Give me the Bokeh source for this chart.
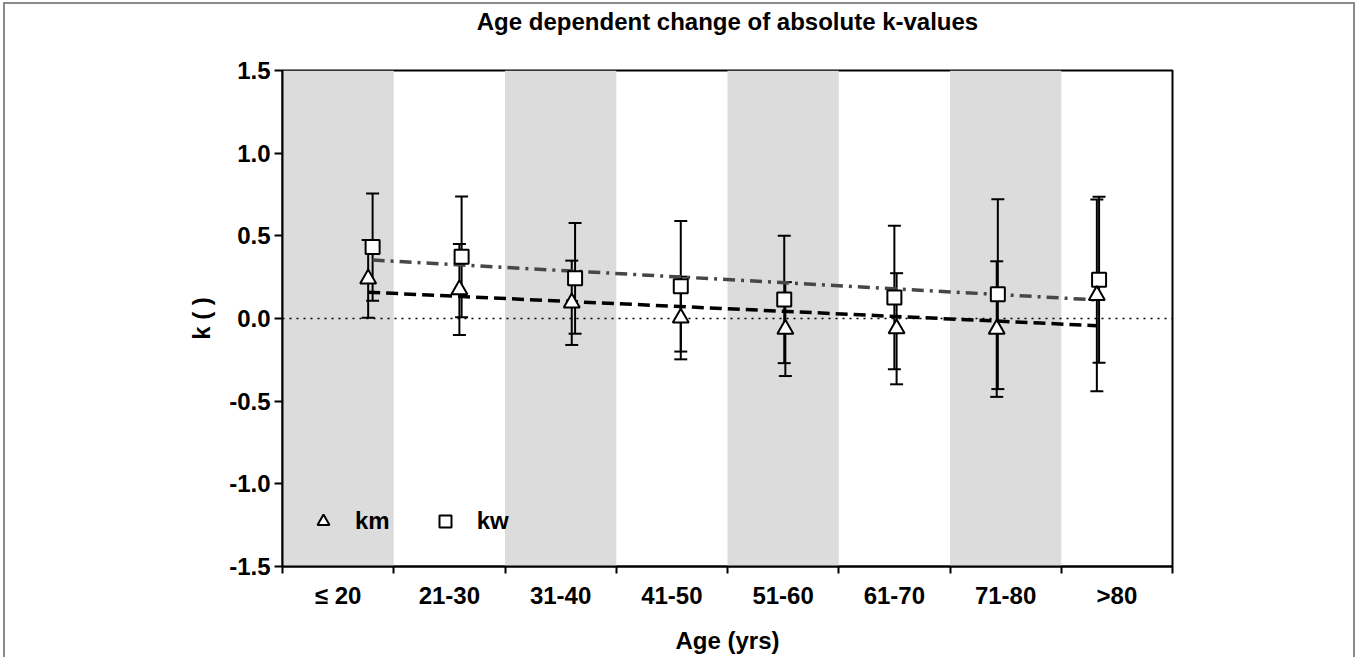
import numpy as np
from bokeh.plotting import figure
from bokeh.models import (ColumnDataSource, Whisker, TeeHead, FixedTicker, LinearAxis,
                          NumeralTickFormatter, Legend, LegendItem, Span, Range1d)
from bokeh.embed import file_html
from bokeh.resources import INLINE

# ---------------- data ----------------
title_text = "Age dependent change of absolute k-values"
categories = ["\u2264 20", "21-30", "31-40", "41-50", "51-60", "61-70", "71-80", ">80"]
band_lower = [10, 20, 30, 40, 50, 60, 70, 80]
band_upper = [20, 30, 40, 50, 60, 70, 80, 90]
band_shaded = [True, False, True, False, True, False, True, False]

# mean age of each group (x position of the points)
age_km = [17.7, 25.9, 36.0, 45.8, 55.2, 65.2, 74.2, 83.2]
age_kw = [18.1, 26.1, 36.3, 45.8, 55.1, 65.0, 74.3, 83.4]

# means and standard deviations
km_mean = [0.24, 0.175, 0.095, 0.003, -0.064, -0.062, -0.064, 0.14]
km_sd = [0.235, 0.275, 0.255, 0.25, 0.284, 0.336, 0.41, 0.58]
kw_mean = [0.432, 0.373, 0.243, 0.195, 0.115, 0.127, 0.147, 0.235]
kw_sd = [0.324, 0.365, 0.335, 0.395, 0.385, 0.434, 0.574, 0.502]

y_ticks = [-1.5, -1.0, -0.5, 0.0, 0.5, 1.0, 1.5]

FONT = "Liberation Sans"
FS = "24px"

# ---------------- figure ----------------
p = figure(frame_width=890, frame_height=496,
           min_border_left=277, min_border_right=181,
           min_border_top=66, min_border_bottom=91,
           x_range=Range1d(band_lower[0], band_upper[-1]),
           y_range=Range1d(y_ticks[0], y_ticks[-1]),
           title_location=None,
           output_backend="svg", toolbar_location=None,
           background_fill_color="white", border_fill_color="white")
p.styles = {"margin-left": "3px", "margin-top": "2px", "margin-bottom": "-12px",
            "border-top": "2px solid #8a8a8a", "border-left": "2px solid #8a8a8a",
            "border-right": "2px solid #8a8a8a"}

xa = p.below[0]
ya = p.left[0]

p.outline_line_color = "black"
p.outline_line_width = 2
p.outline_line_alpha = 1
p.xgrid.visible = False
p.ygrid.visible = False

# title, set as the label of a bare axis above the frame
ta = LinearAxis(ticker=FixedTicker(ticks=[], minor_ticks=[]), axis_label=title_text,
                axis_line_color=None, major_tick_line_color=None,
                minor_tick_line_color=None, major_tick_out=0, major_tick_in=0,
                minor_tick_out=0, minor_tick_in=0, major_label_standoff=0,
                axis_label_standoff=36, axis_label_text_font=FONT,
                axis_label_text_font_size=FS, axis_label_text_font_style="bold",
                axis_label_text_color="black")
p.add_layout(ta, "above")

# shaded bands
sl = [l for l, s in zip(band_lower, band_shaded) if s]
su = [u for u, s in zip(band_upper, band_shaded) if s]
p.quad(left=sl, right=su, bottom=y_ticks[0], top=y_ticks[-1],
       fill_color="#dcdcdc", line_color=None, level="image")

# zero reference line
p.add_layout(Span(location=0, dimension="width", line_color="black",
                  line_width=1.5, line_dash="2 5", level="underlay"))

# error bars
def bars(ages, means, sds):
    src = ColumnDataSource(dict(x=ages, lo=[m - s for m, s in zip(means, sds)],
                                hi=[m + s for m, s in zip(means, sds)]))
    w = Whisker(source=src, base="x", upper="hi", lower="lo", dimension="height",
                line_color="black", line_width=2, level="underlay",
                upper_head=TeeHead(size=13, line_width=2, line_color="black"),
                lower_head=TeeHead(size=13, line_width=2, line_color="black"))
    p.add_layout(w)

bars(age_kw, kw_mean, kw_sd)
bars(age_km, km_mean, km_sd)

# linear trends through the group means
for ages, means, col, dash in [(age_kw, kw_mean, "#474747", "12 6 3 6"),
                               (age_km, km_mean, "black", "12 6")]:
    k, d = np.polyfit(ages, means, 1)
    xs = [ages[0], ages[-1]]
    p.line(xs, [k * x + d for x in xs], line_color=col, line_width=3.5, line_dash=dash)

sq = p.scatter(age_kw, kw_mean, marker="square", size=14, fill_color="white",
               line_color="black", line_width=2)
tri = p.scatter(age_km, km_mean, marker="triangle", size=16, fill_color="white",
                line_color="black", line_width=2)

legend = Legend(items=[LegendItem(label="km", renderers=[tri]),
                       LegendItem(label="kw", renderers=[sq])],
                orientation="horizontal", location=(26, 30),
                glyph_width=30, glyph_height=30, label_standoff=17, spacing=40,
                padding=0, margin=0, border_line_color=None, background_fill_alpha=0,
                label_text_font=FONT, label_text_font_size=FS,
                label_text_font_style="bold", label_text_color="black")
p.add_layout(legend)

# axes
centers = [(l + u) / 2 for l, u in zip(band_lower, band_upper)]
xa.ticker = FixedTicker(ticks=centers, minor_ticks=band_lower + [band_upper[-1]])
xa.major_label_overrides = {c: lab for c, lab in zip(centers, categories)}
xa.major_tick_out = 0
xa.major_tick_in = 0
xa.minor_tick_out = 7
xa.minor_tick_in = 0
xa.minor_tick_line_width = 2
xa.minor_tick_line_color = "black"
xa.axis_label = "Age (yrs)"
xa.major_label_standoff = 8

ya.ticker = FixedTicker(ticks=y_ticks, minor_ticks=[])
ya.formatter = NumeralTickFormatter(format="0.0")
ya.major_tick_out = 8
ya.major_tick_in = 0
ya.major_tick_line_width = 2
ya.major_label_standoff = 4
ya.axis_label = "k ( )"
ya.axis_label_standoff = 11

for ax in (xa, ya):
    ax.axis_line_width = 2
    ax.axis_line_color = "black"
    ax.major_tick_line_color = "black"
    ax.major_label_text_font = FONT
    ax.major_label_text_font_size = FS
    ax.major_label_text_font_style = "bold"
    ax.major_label_text_color = "black"
    ax.axis_label_text_font = FONT
    ax.axis_label_text_font_size = FS
    ax.axis_label_text_font_style = "bold"
    ax.axis_label_text_color = "black"
xa.axis_label_standoff = 15

open("out.html", "w").write(file_html(p, INLINE))
